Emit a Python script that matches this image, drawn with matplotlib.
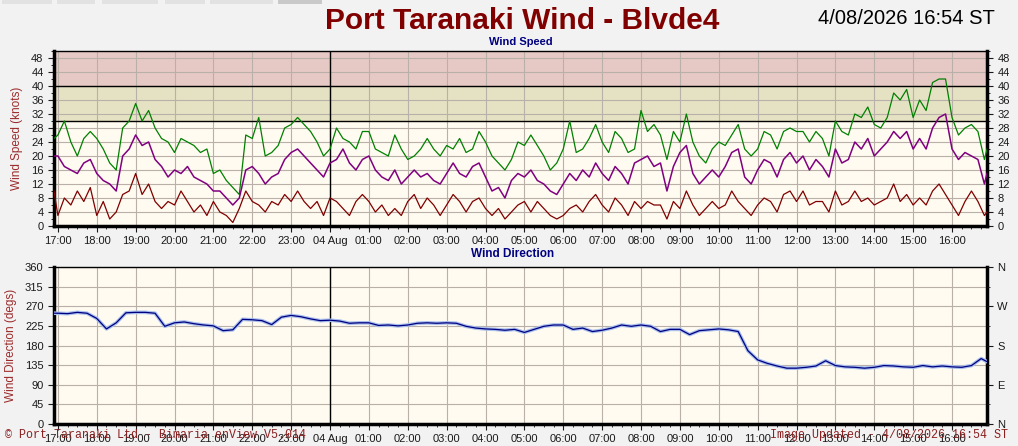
import numpy as np
import matplotlib.pyplot as plt
from matplotlib.patches import Rectangle
from matplotlib.ticker import MultipleLocator

plt.rcParams['font.family'] = ['Liberation Sans', 'DejaVu Sans']

# 10 minute samples, 16:54 (3 Aug) .. 16:54 (4 Aug), hours after 17:00
t_speed = np.concatenate([[-0.1], np.arange(144) / 6.0, [23.9]])

gust = [25, 26, 30, 24, 20, 25, 27, 25, 22, 18, 16, 28, 30, 35, 30, 33, 28, 25, 24,
        21, 25, 24, 23, 21, 22, 15, 16, 13, 11, 9, 26, 25, 31, 20, 21, 23, 28,
        29, 31, 29, 27, 24, 20, 22,
        28, 25, 24, 22, 27, 27, 22, 21, 20, 26, 22, 19, 20, 22, 25, 22, 20,
        23, 22, 25, 21, 22, 27, 24, 20, 18, 16, 19, 24, 23, 26, 23, 20, 16, 18,
        22, 30, 21, 22, 25, 29, 24, 21, 27, 25, 21, 22, 33, 27, 29,
        26, 19, 27, 24, 32, 24, 20, 18, 22, 24, 23, 26, 29, 22, 20,
        22, 27, 26, 22, 27, 28, 27, 27, 24, 27, 25, 20, 30, 27, 26, 32, 31, 34,
        29, 28, 31, 38, 36, 39, 31, 36, 33, 41, 42, 42, 31, 26, 28, 29, 27, 19, 22]

avg = [20, 20, 17, 16, 15, 18, 19, 15, 13, 12, 10, 20, 22, 26, 23, 24, 19, 17, 14,
       16, 15, 17, 14, 13, 12, 10, 10, 8, 6, 8, 16, 17, 15, 12, 14, 15, 19,
       21, 22, 20, 18, 16, 14, 18,
       19, 22, 18, 16, 19, 20, 16, 14, 13, 16, 12, 14, 16, 14, 15, 13, 12,
       15, 18, 15, 14, 17, 18, 14, 10, 11, 8, 13, 15, 14, 16, 13, 12, 10, 9,
       12, 15, 13, 16, 14, 18, 15, 13, 17, 15, 12, 18, 19, 20, 17,
       18, 10, 17, 21, 23, 15, 12, 14, 16, 14, 17, 21, 22, 14, 12,
       16, 19, 18, 14, 19, 21, 18, 20, 16, 19, 17, 14, 22, 18, 19, 24, 22, 25,
       20, 22, 24, 27, 25, 27, 22, 25, 22, 28, 31, 32, 22, 19, 21, 20, 19, 12, 15]

lull = [10, 3, 8, 6, 10, 7, 11, 3, 7, 2, 4, 9, 10, 15, 9, 12, 7, 5, 7,
        6, 10, 7, 4, 6, 3, 7, 4, 3, 1, 5, 10, 7, 6, 4, 7, 6, 9,
        7, 10, 7, 5, 7, 3, 8,
        7, 5, 3, 7, 9, 7, 4, 6, 3, 5, 3, 7, 9, 5, 8, 6, 3,
        6, 9, 7, 4, 7, 8, 5, 3, 5, 2, 4, 6, 7, 4, 7, 5, 3, 2,
        3, 5, 6, 4, 7, 9, 6, 4, 8, 6, 3, 7, 5, 7, 6,
        6, 2, 7, 5, 10, 6, 3, 5, 7, 5, 6, 10, 7, 5, 3,
        6, 8, 7, 4, 9, 10, 7, 10, 6, 7, 7, 4, 10, 6, 7, 10, 7, 8,
        6, 7, 8, 12, 7, 9, 6, 8, 6, 10, 12, 9, 6, 3, 7, 10, 7, 3, 4]

# 15 minute samples of direction
t_dir = np.concatenate([[-0.1], np.arange(96) / 4.0, [23.9]])
direction = [254,
             254, 253, 256, 254,  242, 218, 232, 255,  256, 256, 254, 224,
             232, 234, 230, 227,  225, 214, 216, 240,  239, 237, 228, 245,
             249, 246, 241, 237,  238, 236, 231, 232,  232, 226, 227, 225,
             227, 231, 232, 231,  232, 231, 224, 220,  218, 217, 215, 217,
             210, 217, 224, 227,  227, 217, 220, 212,  215, 220, 227, 224,
             227, 224, 212, 217,  217, 205, 214, 216,  218, 216, 212, 168,
             147, 139, 133, 128,  128, 130, 133, 145,  134, 131, 130, 128,
             130, 134, 133, 131,  130, 134, 131, 133,  131, 130, 134, 150,
             143]

hour_labels = ['17:00', '18:00', '19:00', '20:00', '21:00', '22:00', '23:00', '04 Aug',
               '01:00', '02:00', '03:00', '04:00', '05:00', '06:00', '07:00', '08:00',
               '09:00', '10:00', '11:00', '12:00', '13:00', '14:00', '15:00', '16:00']
compass = ['N', 'E', 'S', 'W', 'N']

W, H = 1018, 446
fig = plt.figure(figsize=(W / 100, H / 100), dpi=100, facecolor='#F2F2F2')

# tabs along the top edge
for x0, x1, c in [(2, 52, '#E2E2E2'), (57, 95, '#E2E2E2'), (102, 158, '#E2E2E2'),
                  (165, 205, '#E2E2E2'), (210, 273, '#E2E2E2'), (278, 322, '#C9C9C9')]:
    fig.add_artist(Rectangle((x0 / W, 1 - 4 / H), (x1 - x0) / W, 4 / H,
                             transform=fig.transFigure, color=c, lw=0))

grid_c = '#B9B1A9'
tick_c = '#1A1A1A'
lab_c = '#9C2A2A'

ax1 = fig.add_axes([54 / W, 1 - 226 / H, 933 / W, 175 / H])
ax2 = fig.add_axes([54 / W, 1 - 424 / H, 933 / W, 157 / H])

for ax in (ax1, ax2):
    ax.set_facecolor('#FFFBF0')
    ax.set_xlim(-0.1, 23.9)
    ax.set_xticks(range(24))
    ax.set_xticklabels(hour_labels)
    ax.xaxis.set_minor_locator(MultipleLocator(0.25))
    ax.set_axisbelow(True)
    ax.grid(True, color=grid_c, lw=0.8)
    ax.axvline(7, color='black', lw=1.0, zorder=2)
    ax.tick_params(axis='both', which='major', labelsize=8, colors=tick_c, length=4, width=0.8)
    ax.tick_params(axis='x', which='minor', length=2, width=0.6, colors=tick_c)
    ax.spines['left'].set_linewidth(2.5)
    ax.spines['right'].set_linewidth(2.5)
    ax.spines['bottom'].set_linewidth(2.5)
    ax.spines['top'].set_linewidth(1.0)

# wind speed
ax1.set_ylim(0, 50)
ax1.set_yticks(range(0, 49, 4))
ax1.yaxis.set_minor_locator(MultipleLocator(2))
ax1.tick_params(axis='y', which='minor', length=2, width=0.6, right=True)
ax1.tick_params(axis='y', which='major', right=True, labelright=True)
ax1.axhspan(30, 40, color='#E5E1C3', zorder=0.2, lw=0)
ax1.axhspan(40, 50, color='#E6C9C4', zorder=0.2, lw=0)
ax1.axhline(30, color='black', lw=1.0, zorder=2)
ax1.axhline(40, color='black', lw=1.0, zorder=2)
ax1.plot(t_speed, gust, color='#008000', lw=0.9, zorder=3)
ax1.plot(t_speed, avg, color='#800080', lw=1.1, zorder=4)
ax1.plot(t_speed, lull, color='#800000', lw=0.9, zorder=5)
ax1.set_ylabel('Wind Speed (knots)', color=lab_c, fontsize=8.5, labelpad=6)
ax1.set_title('Wind Speed', color='#000080', fontsize=8, fontweight='bold', pad=4)

# wind direction
ax2.set_ylim(0, 360)
ax2.set_yticks(range(0, 361, 45))
ax2.plot(t_dir, direction, color='#A8BEEC', lw=2.6, zorder=3)
ax2.plot(t_dir, direction, color='#000080', lw=0.9, zorder=4)
ax2.set_ylabel('Wind Direction (degs)', color=lab_c, fontsize=8.5, labelpad=6)
ax2r = ax2.twinx()
ax2r.set_ylim(0, 360)
ax2r.set_yticks(range(0, 361, 90))
ax2r.set_yticklabels(compass)
ax2r.yaxis.set_minor_locator(MultipleLocator(45))
ax2r.tick_params(axis='y', which='major', labelsize=8, colors=tick_c, length=4, width=0.8)
ax2r.tick_params(axis='y', which='minor', length=2, width=0.6, colors=tick_c)
for s in ax2r.spines.values():
    s.set_visible(False)

fig.text(522 / W, 1 - 21 / H, 'Port Taranaki Wind - Blvde4', ha='center', va='center',
         color='#800000', fontsize=21.5, fontweight='bold')
fig.text(818 / W, 1 - 19 / H, '4/08/2026 16:54 ST', ha='left', va='center',
         color='black', fontsize=14.5)
fig.text(513 / W, 1 - 254 / H, 'Wind Direction', ha='center', va='center',
         color='#000080', fontsize=8.5, fontweight='bold')
fig.text(5 / W, 1 - 435 / H, '\u00a9 Port Taranaki Ltd - Bimaria enView V5.014',
         family='Liberation Mono', color='#8B2020', fontsize=8.4, va='center')
fig.text(1008 / W, 1 - 435 / H, 'Image Updated - 4/08/2026 16:54 ST',
         family='Liberation Mono', color='#8B2020', fontsize=8.4, va='center', ha='right')

fig.savefig('out.png', dpi=100, facecolor=fig.get_facecolor())
